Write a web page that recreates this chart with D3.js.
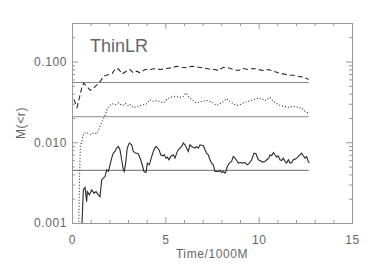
<!DOCTYPE html>
<html>
<head>
<meta charset="UTF-8">
<script src="https://d3js.org/d3.v7.min.js"></script>
<style>
  body { margin: 0; background: #fff; }
  svg text { font-family: "Liberation Sans", Arial, sans-serif; fill: #666; }
</style>
</head>
<body>
<div id="chart"></div>
<script>
// data
const label = "ThinLR";
const xTicks = [0, 5, 10, 15];
const yTicks = [0.001, 0.01, 0.1];
const yTickLabels = ["0.001", "0.010", "0.100"];
const refLevels = [0.055, 0.0207, 0.00449];
const refEnd = 12.68;

const dashT = [0.1, 0.27, 0.39, 0.54, 0.63, 0.8, 0.98, 1.16, 1.36, 1.52, 1.7, 1.97, 2.15, 2.33, 2.51, 2.68, 2.95,
  3.11, 3.28, 3.47, 3.64, 3.91, 4.18, 4.45, 4.71, 5.07, 5.34, 5.61, 5.88, 6.14, 6.41, 6.68, 6.95, 7.22, 7.48,
  7.66, 7.84, 8.11, 8.37, 8.64, 8.91, 9.18, 9.45, 9.71, 9.98, 10.25, 10.52, 10.78, 11.05, 11.32, 11.59, 11.86,
  12.12, 12.39, 12.57, 12.68];
const dashV = [0.034, 0.027, 0.035, 0.049, 0.054, 0.049, 0.044, 0.047, 0.052, 0.057, 0.066, 0.069, 0.071, 0.082,
  0.080, 0.070, 0.077, 0.0796, 0.0725, 0.076, 0.0725, 0.0796, 0.0796, 0.082, 0.0796, 0.0818, 0.0836, 0.0875,
  0.085, 0.0836, 0.0875, 0.086, 0.0836, 0.082, 0.0796, 0.0796, 0.0773, 0.0849, 0.0836, 0.0796, 0.0773, 0.0818,
  0.0796, 0.0818, 0.0796, 0.0773, 0.0796, 0.0759, 0.0725, 0.0703, 0.0676, 0.0676, 0.0656, 0.0638, 0.0615, 0.060];

const dotT = [0.36, 0.4, 0.45, 0.5, 0.63, 0.8, 0.98, 1.16, 1.34, 1.43, 1.61, 1.79, 1.88, 1.97, 2.14, 2.32, 2.5,
  2.68, 2.86, 3.04, 3.11, 3.28, 3.55, 3.82, 4.0, 4.18, 4.36, 4.54, 4.71, 4.89, 5.07, 5.25, 5.52, 5.79, 5.96,
  6.11, 6.23, 6.41, 6.68, 6.95, 7.22, 7.48, 7.75, 8.02, 8.29, 8.46, 8.64, 8.91, 9.18, 9.45, 9.71, 9.98, 10.16,
  10.34, 10.61, 10.78, 11.05, 11.32, 11.59, 11.86, 12.12, 12.3, 12.48, 12.66];
const dotV = [0.0008, 0.0034, 0.0093, 0.0098, 0.013, 0.0132, 0.0124, 0.013, 0.0128, 0.0143, 0.0181, 0.022,
  0.0254, 0.0279, 0.0301, 0.0292, 0.0307, 0.0284, 0.0301, 0.0279, 0.0292, 0.027, 0.0279, 0.0292, 0.030, 0.0337,
  0.0321, 0.0328, 0.0321, 0.0307, 0.0337, 0.036, 0.0371, 0.036, 0.037, 0.0408, 0.0371, 0.0337, 0.0307, 0.0321,
  0.0328, 0.0317, 0.0286, 0.0307, 0.0347, 0.0321, 0.0299, 0.0286, 0.0307, 0.0321, 0.0337, 0.0354, 0.0347,
  0.0328, 0.036, 0.0321, 0.0292, 0.0279, 0.027, 0.0279, 0.027, 0.0266, 0.0242, 0.0231];

const solidT = [0.52, 0.607, 0.696, 0.786, 0.82, 0.929, 1.054, 1.18, 1.286, 1.41, 1.5, 1.59, 1.68, 1.77, 1.857,
  1.946, 2.036, 2.125, 2.214, 2.3, 2.39, 2.48, 2.57, 2.66, 2.75, 2.8, 2.875, 2.96, 3.07, 3.196, 3.286, 3.41,
  3.55, 3.68, 3.786, 3.857, 3.964, 4.036, 4.143, 4.27, 4.39, 4.5, 4.59, 4.68, 4.75, 4.857, 4.946, 5.036, 5.107,
  5.196, 5.286, 5.43, 5.52, 5.607, 5.696, 5.786, 5.875, 5.964, 6.05, 6.14, 6.23, 6.32, 6.41, 6.59, 6.68, 6.77,
  6.86, 7.04, 7.125, 7.21, 7.3, 7.39, 7.48, 7.57, 7.66, 7.75, 7.84, 7.93, 8.02, 8.11, 8.196, 8.25, 8.32, 8.43,
  8.55, 8.64, 8.73, 8.82, 8.91, 9.0, 9.14, 9.27, 9.39, 9.5, 9.625, 9.75, 9.857, 9.98, 10.07, 10.21, 10.34,
  10.43, 10.54, 10.61, 10.7, 10.79, 10.88, 10.96, 11.05, 11.14, 11.23, 11.32, 11.41, 11.5, 11.59, 11.68,
  11.77, 11.86, 11.95, 12.04, 12.125, 12.21, 12.3, 12.39, 12.48, 12.57, 12.66, 12.71];
const solidV = [0.0008, 0.00257, 0.00277, 0.00184, 0.00245, 0.00223, 0.00257, 0.00234, 0.00245, 0.00223,
  0.00212, 0.00342, 0.00359, 0.00376, 0.00455, 0.00434, 0.00525, 0.00636, 0.00734, 0.00769, 0.00848, 0.00888,
  0.00807, 0.00607, 0.00455, 0.00434, 0.00552, 0.00848, 0.00977, 0.0093, 0.00769, 0.00734, 0.0072, 0.00607,
  0.00501, 0.00434, 0.00422, 0.00552, 0.00525, 0.00667, 0.00807, 0.00888, 0.00848, 0.0079, 0.0070, 0.0068,
  0.0070, 0.00636, 0.00655, 0.00607, 0.00667, 0.0070, 0.00636, 0.00734, 0.00807, 0.00848, 0.00888, 0.00977,
  0.0093, 0.00848, 0.00769, 0.0093, 0.00888, 0.00848, 0.00888, 0.00848, 0.0093, 0.00906, 0.00807, 0.00734,
  0.0070, 0.00607, 0.00552, 0.00525, 0.00434, 0.00434, 0.00434, 0.00446, 0.00422, 0.00434, 0.00414, 0.00434,
  0.00501, 0.00552, 0.00578, 0.00667, 0.00636, 0.00594, 0.00552, 0.00561, 0.00552, 0.00561, 0.00525, 0.00552,
  0.00607, 0.00734, 0.0072, 0.00607, 0.00594, 0.00568, 0.00578, 0.00607, 0.00636, 0.0070, 0.0068, 0.00747,
  0.0070, 0.00655, 0.0068, 0.00607, 0.00594, 0.00636, 0.00578, 0.00552, 0.00607, 0.00552, 0.00561, 0.00607,
  0.00618, 0.00636, 0.00667, 0.0070, 0.00734, 0.0068, 0.00636, 0.00667, 0.00578, 0.00552];

const width = 374, height = 270;
const margin = {top: 23, right: 22, bottom: 47, left: 72};
const w = width - margin.left - margin.right;
const h = height - margin.top - margin.bottom;

const svg = d3.select("#chart").append("svg")
    .attr("width", width)
    .attr("height", height);

const x = d3.scaleLinear().domain([0, 15]).range([0, w]);
const y = d3.scaleLog().domain([0.001, 0.3]).range([h, 0]);

const g = svg.append("g").attr("transform", `translate(${margin.left},${margin.top})`);

g.append("clipPath").attr("id", "clip")
  .append("rect").attr("width", w).attr("height", h);

const axisColor = "#999";

// tick marks: minor every 1, major every 5; log minors on y
const xMinor = d3.range(0, 16).filter(d => d % 5 !== 0);
const yMinor = y.ticks().filter(d => !yTicks.some(t => Math.abs(t - d) / t < 1e-6));

function drawAxis(axis, transform) {
  const a = g.append("g").attr("transform", transform).call(axis);
  a.select(".domain").attr("stroke", axisColor);
  a.selectAll("line").attr("stroke", axisColor);
  a.selectAll("text").attr("fill", "#666").style("font-size", "12px").style("letter-spacing", "0.6px");
  return a;
}

drawAxis(d3.axisBottom(x).tickValues(xTicks).tickSize(-6).tickPadding(12).tickFormat(d3.format("d")),
  `translate(0,${h})`);
drawAxis(d3.axisBottom(x).tickValues(xMinor).tickSize(-3).tickFormat(""), `translate(0,${h})`);
drawAxis(d3.axisTop(x).tickValues(xTicks).tickSize(-6).tickFormat(""), "translate(0,0)");
drawAxis(d3.axisTop(x).tickValues(xMinor).tickSize(-3).tickFormat(""), "translate(0,0)");

drawAxis(d3.axisLeft(y).tickValues(yTicks).tickSize(-6).tickPadding(5)
  .tickFormat((d, i) => yTickLabels[i]), "translate(0,0)");
drawAxis(d3.axisLeft(y).tickValues(yMinor).tickSize(-3).tickFormat(""), "translate(0,0)");
drawAxis(d3.axisRight(y).tickValues(yTicks).tickSize(-6).tickFormat(""), `translate(${w},0)`);
drawAxis(d3.axisRight(y).tickValues(yMinor).tickSize(-3).tickFormat(""), `translate(${w},0)`);

// reference levels
g.selectAll(".ref")
  .data(refLevels)
  .enter().append("line")
  .attr("class", "ref")
  .attr("x1", x(0)).attr("x2", x(refEnd))
  .attr("y1", d => y(d)).attr("y2", d => y(d))
  .attr("stroke", "#888")
  .attr("stroke-width", 1.1);

const line = d3.line()
  .x(d => x(d[0]))
  .y(d => y(d[1]));

const series = [
  {t: dashT, v: dashV, dash: "5,3"},
  {t: dotT, v: dotV, dash: "1,2"},
  {t: solidT, v: solidV, dash: null}
];

g.selectAll(".series")
  .data(series)
  .enter().append("path")
  .attr("class", "series")
  .attr("clip-path", "url(#clip)")
  .attr("d", d => line(d.t.map((t, i) => [t, d.v[i]])))
  .attr("fill", "none")
  .attr("stroke", "#2a2a2a")
  .attr("stroke-width", 1.1)
  .attr("stroke-dasharray", d => d.dash);

g.append("text")
  .attr("x", 18).attr("y", 29)
  .style("font-size", "18px")
  .text(label);

svg.append("text")
  .attr("x", margin.left + w / 2).attr("y", 258)
  .attr("text-anchor", "middle")
  .style("font-size", "12px").style("letter-spacing", "0.6px")
  .text("Time/1000M");

svg.append("text")
  .attr("transform", `translate(25,${margin.top + h / 2}) rotate(-90)`)
  .attr("text-anchor", "middle")
  .style("font-size", "12px").style("letter-spacing", "0.6px")
  .text("M(<r)");
</script>
</body>
</html>
